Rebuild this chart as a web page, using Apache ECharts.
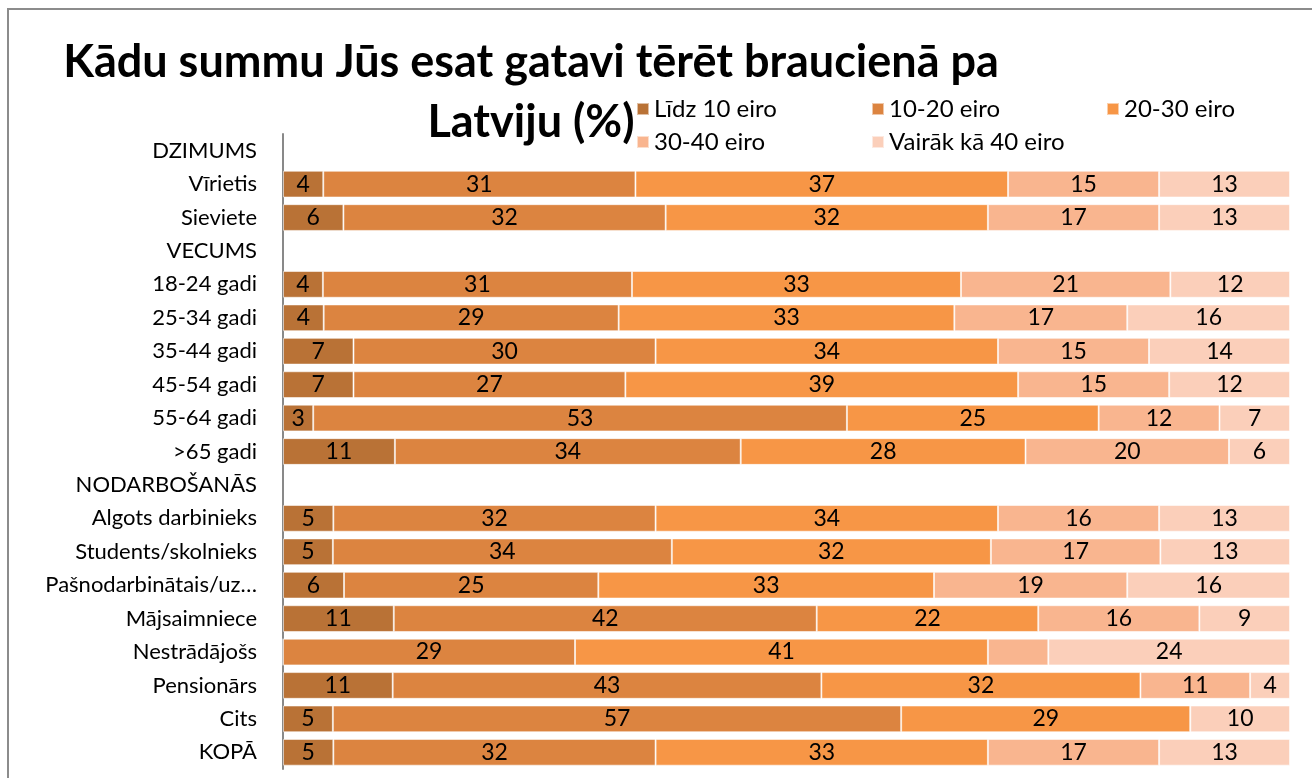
<!DOCTYPE html>
<html>
<head>
<meta charset="utf-8">
<script src="https://cdn.jsdelivr.net/npm/echarts@6/dist/echarts.min.js"></script>
<style>
  html, body { margin: 0; padding: 0; background: #fff; }
  #chart { width: 1312px; height: 778px; }
</style>
</head>
<body>
<div id="chart"></div>
<script>
// rindu nosaukumi (no augšas uz leju)
const categories = ['DZIMUMS', 'Vīrietis', 'Sieviete', 'VECUMS', '18-24 gadi', '25-34 gadi', '35-44 gadi',
  '45-54 gadi', '55-64 gadi', '>65 gadi', 'NODARBOŠANĀS', 'Algots darbinieks', 'Students/skolnieks',
  'Pašnodarbinātais/uz…', 'Mājsaimniece', 'Nestrādājošs', 'Pensionārs', 'Cits', 'KOPĀ'];

const seriesNames = ['Līdz 10 eiro', '10-20 eiro', '20-30 eiro', '30-40 eiro', 'Vairāk kā 40 eiro'];

// vērtības (%), null = virsraksta rinda
const lidz10 = [null, 4, 6, null, 4, 4, 7, 7, 3, 11, null, 5, 5, 6, 11, 0, 11, 5, 5];
const eiro10_20 = [null, 31, 32, null, 31, 29, 30, 27, 53, 34, null, 32, 34, 25, 42, 29, 43, 57, 32];
const eiro20_30 = [null, 37, 32, null, 33, 33, 34, 39, 25, 28, null, 34, 32, 33, 22, 41, 32, 29, 33];
const eiro30_40 = [null, 15, 17, null, 21, 17, 15, 15, 12, 20, null, 16, 17, 19, 16, 6, 11, 0, 17];
const vairak40 = [null, 13, 13, null, 12, 16, 14, 12, 7, 6, null, 13, 13, 16, 9, 24, 4, 10, 13];

// segmenti bez etiķetes: [sērija, rinda]
const hiddenLabels = [[3, 15]];

const colors = ['#B97236', '#DC8440', '#F79646', '#F9B58F', '#FBCFBA'];
const FONT = 'Lato';

const raw = [lidz10, eiro10_20, eiro20_30, eiro30_40, vairak40];
const totals = categories.map((c, i) => raw.reduce((s, arr) => s + (arr[i] || 0), 0));

const series = raw.map((arr, si) => ({
  name: seriesNames[si],
  type: 'bar',
  stack: 'total',
  barWidth: '80%',
  itemStyle: {
    color: colors[si],
    borderColor: 'rgba(255,255,255,0.55)',
    borderWidth: 1
  },
  label: {
    show: true,
    position: 'inside',
    color: '#000',
    fontFamily: FONT,
    fontSize: 23,
    formatter: (p) => {
      const v = arr[p.dataIndex];
      if (!v) return '';
      if (hiddenLabels.some(h => h[0] === si && h[1] === p.dataIndex)) return '';
      return String(v);
    }
  },
  data: arr.map((v, i) => (v === null ? null : (v / totals[i]) * 100))
}));

// leģenda: 3 kolonnas, 2 rindas
const legendCols = [636, 871, 1106];
const legendRows = [97, 130];
const legends = seriesNames.map((name, i) => ({
  left: legendCols[i % 3],
  top: legendRows[Math.floor(i / 3)],
  padding: 0,
  itemWidth: 12,
  itemHeight: 12,
  icon: 'rect',
  data: [name],
  textStyle: { fontFamily: FONT, fontSize: 24, color: '#000' }
}));

const chart = echarts.init(document.getElementById('chart'));

chart.setOption({
  animation: false,
  backgroundColor: '#fff',
  title: {
    text: 'Kādu summu Jūs esat gatavi tērēt braucienā pa\nLatviju (%)',
    left: 526,
    top: 27,
    textAlign: 'center',
    textStyle: { fontFamily: FONT, fontWeight: 'bold', fontSize: 45, lineHeight: 60, color: '#000' }
  },
  legend: legends,
  grid: { left: 283, right: 22, top: 134, bottom: 9 },
  xAxis: {
    type: 'value',
    min: 0,
    max: 100,
    show: false
  },
  yAxis: {
    type: 'category',
    inverse: true,
    data: categories,
    axisTick: { show: false },
    axisLine: { lineStyle: { color: '#898989', width: 2 } },
    axisLabel: { fontFamily: FONT, fontSize: 22, color: '#000', margin: 26 }
  },
  graphic: [{
    type: 'rect',
    shape: { x: 8, y: 9, width: 1320, height: 800 },
    style: { fill: 'none', stroke: '#8c8c8c', lineWidth: 2 },
    silent: true,
    z: -1
  }],
  series: series
});
</script>
</body>
</html>
